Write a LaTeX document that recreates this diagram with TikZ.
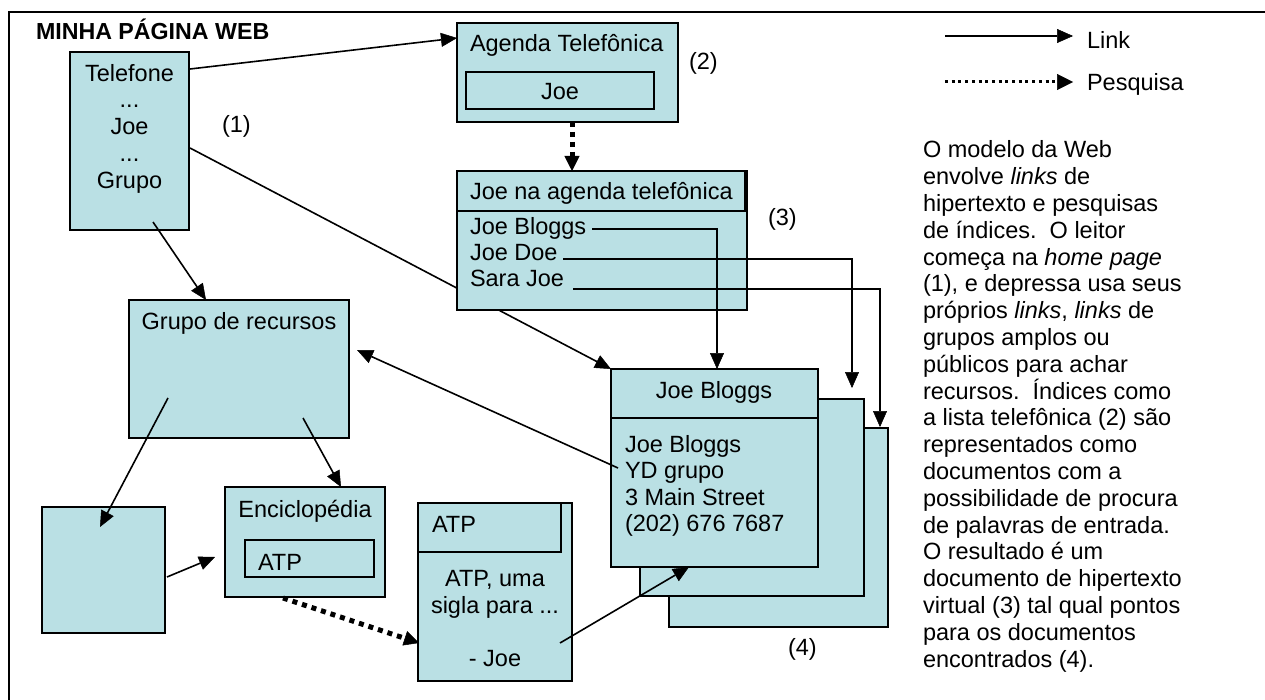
\documentclass[tikz,border=0pt]{standalone}
\usepackage{fontspec}
\setmainfont{Liberation Sans}
\usetikzlibrary{arrows.meta}
\definecolor{boxfill}{RGB}{186,224,228}
\begin{document}
\begin{tikzpicture}[x=1pt,y=-1pt,
  every node/.style={inner sep=0pt, outer sep=0pt},
  font=\fontsize{23.5}{26.8}\selectfont,
  box/.style 2 args={draw=black, fill=boxfill, line width=1.8pt, anchor=north west,
    minimum width=#1pt, minimum height=#2pt},
  txt/.style={anchor=base west},
  ctxt/.style={anchor=base},
  link/.style={line width=1.6pt, -{Triangle[length=16pt,width=14pt,line width=0.5pt]}},
  search/.style={line width=5pt, dash pattern=on 5pt off 5pt,
    -{Triangle[length=15pt,width=15pt,line width=0.5pt]}},
  legsearch/.style={line width=3pt, dash pattern=on 3pt off 3.7pt,
    -{Triangle[length=16pt,width=16pt,line width=0.5pt]}}
]
\useasboundingbox (0,0) rectangle (1265,700);
\fill[white] (0,0) rectangle (1265,700);
% frame
\draw[line width=2.7pt] (9,702) -- (9,12) -- (1267,12);

% connector hidden under boxes
\coordinate (c2a) at (190,148);
\coordinate (c2b) at (611,369);
\draw[link] (c2a) -- (c2b);

% boxes
\node[box={119}{178}] (tel) at (70,52) {};
\node[box={221}{99}] (agenda) at (457,23) {};
\node[box={188}{37}] (agjoe) at (466,72) {};
\node[box={290}{139}] (jna) at (457,171) {};
\node[box={288}{40}] (jnah) at (457,171) {};
\node[box={220}{138}] (grp) at (129,300) {};
\node[box={123}{126}] (empt) at (42,507) {};
\node[box={160}{110}] (enc) at (225,487) {};
\node[box={129}{37}] (encatp) at (245,540) {};
\node[box={154}{178}] (atp) at (418,503) {};
\node[box={143}{49}] (atph) at (418,503) {};
\node[box={219}{199}] (jb3) at (669,428) {};
\node[box={224}{197}] (jb2) at (640,399) {};
\node[box={207}{198}] (jb1) at (611,369) {};
\node[box={207}{49}] (jb1h) at (611,369) {};

% texts
\node[txt, font=\fontsize{23.2}{26.8}\selectfont\bfseries] (title) at (36,40) {MINHA PÁGINA WEB};
\node[ctxt] (t1) at (129.5,82) {Telefone};
\node[ctxt] (t2) at (129.5,108) {...};
\node[ctxt] (t3) at (129.5,135) {Joe};
\node[ctxt] (t4) at (129.5,162) {...};
\node[ctxt] (t5) at (129.5,189) {Grupo};
\node[txt] (lab1) at (222,133) {(1)};
\node[txt] (agt) at (470,52) {Agenda Telefônica};
\node[ctxt] (agjoet) at (560,100) {Joe};
\node[txt] (lab2) at (689,70) {(2)};
\node[txt] (jnat) at (470,199.5) {Joe na agenda telefônica};
\node[txt] (r1) at (470,235) {Joe Bloggs};
\node[txt] (r2) at (470,261) {Joe Doe};
\node[txt] (r3) at (470,287) {Sara Joe};
\node[txt] (lab3) at (768,226) {(3)};
\node[ctxt] (grpt) at (239,329) {Grupo de recursos};
\node[ctxt] (enct) at (305,517) {Enciclopédia};
\node[txt] (encatpt) at (258,570) {ATP};
\node[txt] (atpht) at (432,532) {ATP};
\node[ctxt] (a1) at (495,586) {ATP, uma};
\node[ctxt] (a2) at (495,613) {sigla para ...};
\node[ctxt] (a3) at (495,666) {- Joe};
\node[ctxt] (jbht) at (714,398) {Joe Bloggs};
\node[txt] (b1) at (625,452) {Joe Bloggs};
\node[txt] (b2) at (625,478.5) {YD grupo};
\node[txt] (b3) at (625,505) {3 Main Street};
\node[txt] (b4) at (625,531.5) {(202) 676 7687};
\node[txt] (lab4) at (788,655) {(4)};

% legend
\coordinate (lk0) at (945,36); \coordinate (lk1) at (1073,36);
\coordinate (pq0) at (945,82); \coordinate (pq1) at (1073,82);
\draw[link] (lk0) -- (lk1);
\draw[legsearch] (pq0) -- (pq1);
\node[txt] (lk) at (1087,49) {Link};
\node[txt] (pq) at (1087,91) {Pesquisa};

% paragraph
\node[txt] (para) at (923,158) {\vtop{\baselineskip=26.8pt
\hbox{O modelo da Web}
\hbox{envolve \textit{links} de}
\hbox{hipertexto e pesquisas}
\hbox{de índices.~~O leitor}
\hbox{começa na \textit{home page}}
\hbox{(1), e depressa usa seus}
\hbox{próprios \textit{links}, \textit{links} de}
\hbox{grupos amplos ou}
\hbox{públicos para achar}
\hbox{recursos.~~Índices como}
\hbox{a lista telefônica (2) são}
\hbox{representados como}
\hbox{documentos com a}
\hbox{possibilidade de procura}
\hbox{de palavras de entrada.}
\hbox{O resultado é um}
\hbox{documento de hipertexto}
\hbox{virtual (3) tal qual pontos}
\hbox{para os documentos}
\hbox{encontrados (4).}}};

% connectors
\coordinate (c1a) at (190,69); \coordinate (c1b) at (457,38);
\draw[link] (c1a) -- (c1b);
\coordinate (c3a) at (153,222); \coordinate (c3b) at (206,300);
\draw[link] (c3a) -- (c3b);
\coordinate (c4a) at (572,122); \coordinate (c4b) at (572,171);
\draw[search] (c4a) -- (c4b);
\coordinate (c5a) at (592,229); \coordinate (c5b) at (717,369);
\draw[link] (c5a) -| (c5b);
\coordinate (c6a) at (563,259); \coordinate (c6b) at (852,388);
\draw[link] (c6a) -| (c6b);
\coordinate (c7a) at (573,289); \coordinate (c7b) at (880,427);
\draw[link] (c7a) -| (c7b);
\coordinate (c8a) at (618,468); \coordinate (c8b) at (357,350);
\draw[link] (c8a) -- (c8b);
\coordinate (c9a) at (168,398); \coordinate (c9b) at (100,527);
\draw[link] (c9a) -- (c9b);
\coordinate (c10a) at (303,418); \coordinate (c10b) at (341,487);
\draw[link] (c10a) -- (c10b);
\coordinate (c11a) at (167,577); \coordinate (c11b) at (215,557);
\draw[link] (c11a) -- (c11b);
\coordinate (c12a) at (283,598); \coordinate (c12b) at (419,643);
\draw[search] (c12a) -- (c12b);
\coordinate (c13a) at (560,643); \coordinate (c13b) at (689,567);
\draw[link] (c13a) -- (c13b);
\end{tikzpicture}
\end{document}
